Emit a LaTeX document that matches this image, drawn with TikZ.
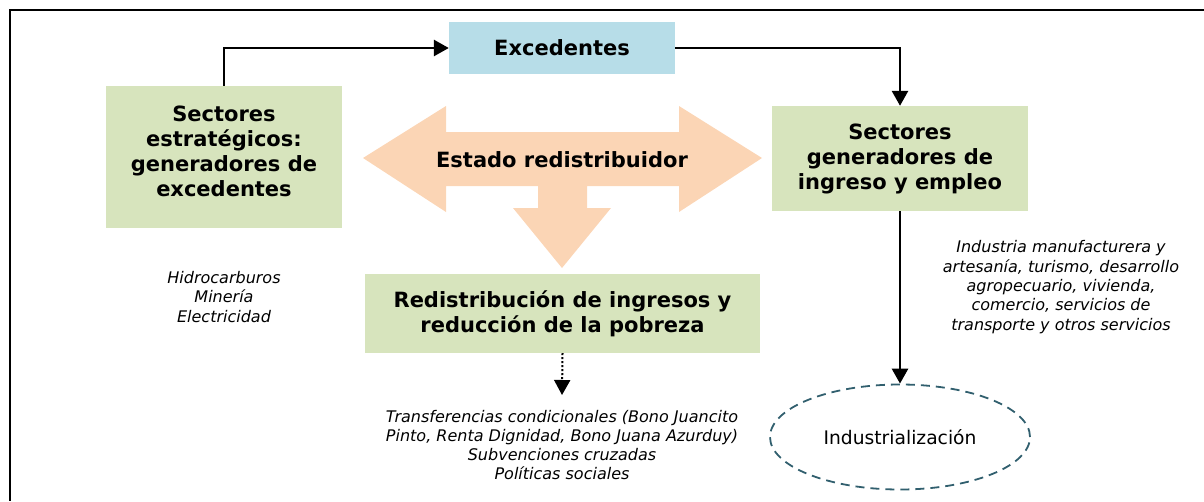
\documentclass[tikz,border=0pt]{standalone}
\usepackage{fontspec}
\setmainfont{DejaVu Sans}
\usetikzlibrary{arrows.meta,shapes.geometric}
\definecolor{boxgreen}{RGB}{215,228,189}
\definecolor{boxblue}{RGB}{183,221,232}
\definecolor{arrowpeach}{RGB}{251,213,181}
\definecolor{ovalteal}{RGB}{49,95,110}

\begin{document}
\begin{tikzpicture}[x=1pt,y=-1pt,
    greenbox/.style={rectangle, fill=boxgreen, align=center, inner sep=0pt,
      font=\fontsize{21}{25}\selectfont\bfseries},
    note/.style={align=center, font=\fontsize{16}{19.3}\selectfont\itshape},
    link/.style={line width=2.8pt, -{Triangle[length=15pt,width=16pt]}}]
    \useasboundingbox (0,0) rectangle (1204,501);
    \draw[line width=2.6pt] (1204,10) -- (10,10) -- (10,501);

    % Estado redistribuidor
    \fill[arrowpeach] (363,158) -- (446,106) -- (446,132) -- (679,132) -- (679,106)
      -- (762,158) -- (679,212) -- (679,186) -- (587,186) -- (587,208) -- (611,208)
      -- (562,268) -- (513,208) -- (538,208) -- (538,186) -- (446,186) -- (446,212) -- cycle;
    \node (estado) at (562,160) [font=\fontsize{21}{25}\selectfont\bfseries] {Estado redistribuidor};

    \node (exced) [rectangle, fill=boxblue, minimum width=226pt, minimum height=52pt,
      font=\fontsize{21}{25}\selectfont\bfseries] at (562,48) {Excedentes};
    \node (estrat) [greenbox, minimum width=236pt, minimum height=142pt, text depth=12pt] at (224,157)
      {Sectores\\estratégicos:\\generadores de\\excedentes};
    \node (ingreso) [greenbox, minimum width=256pt, minimum height=105pt] at (900,158.5)
      {Sectores\\generadores de\\ingreso y empleo};
    \node (redis) [greenbox, minimum width=395pt, minimum height=79pt] at (562.5,313.5)
      {Redistribución de ingresos y\\reducción de la pobreza};
    \node (indus) [ellipse, draw=ovalteal, line width=1.8pt, dash pattern=on 9pt off 6pt,
      minimum width=260pt, minimum height=105pt, font=\fontsize{18.7}{22}\selectfont] at (900,437)
      {Industrialización};

    \node (minas) [note] at (224,297) {Hidrocarburos\\Minería\\Electricidad};
    \node (programas) [note] at (562,445) {Transferencias condicionales (Bono Juancito\\Pinto, Renta Dignidad, Bono Juana Azurduy)\\Subvenciones cruzadas\\Políticas sociales};
    \node (ramas) [note] at (1061,287) {Industria manufacturera y\\artesanía, turismo, desarrollo\\agropecuario, vivienda,\\comercio, servicios de\\transporte y otros servicios};

    \coordinate (punta) at (562,395);

    \draw[link] (estrat.north) |- (exced.west);
    \draw[link] (exced.east) -| (ingreso.north);
    \draw[link] (ingreso.south) -- (indus.north);
    \draw[line width=2pt, dotted, -{Triangle[length=15pt,width=16pt]}] (redis.south) -- (punta);
\end{tikzpicture}
\end{document}
